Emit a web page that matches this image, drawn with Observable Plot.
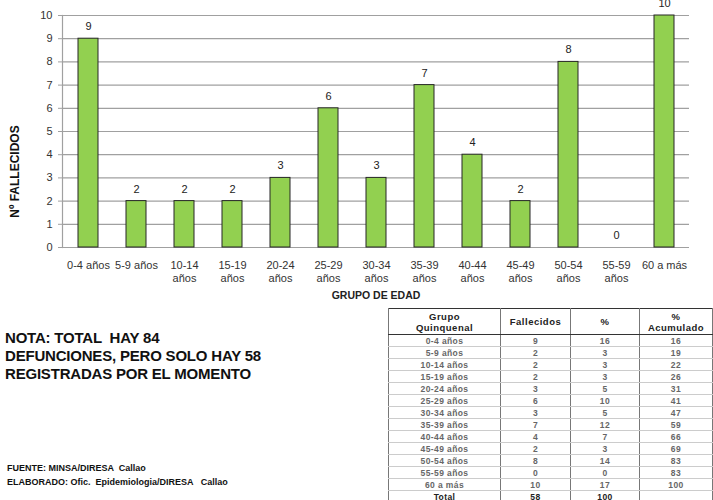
<!DOCTYPE html>
<html><head><meta charset="utf-8">
<script src="https://cdn.jsdelivr.net/npm/d3@7"></script>
<script src="https://cdn.jsdelivr.net/npm/@observablehq/plot@0.6"></script>
<style>
body{margin:0;background:#fff;font-family:"Liberation Sans",Arial,sans-serif;}
#wrap{position:relative;width:713px;height:500px;overflow:hidden;background:#fff;}
#chart{position:absolute;left:0;top:0;}
#nota{position:absolute;left:5px;top:329px;font-weight:bold;font-size:15px;line-height:18px;color:#111;white-space:pre;letter-spacing:-0.2px;}
#fuente{position:absolute;left:7px;top:461px;font-weight:bold;font-size:9px;line-height:14px;color:#111;white-space:pre;}
#tabla{position:absolute;left:388px;top:308px;border-collapse:collapse;font-size:8.5px;font-weight:bold;color:#666;border:1px solid #333;table-layout:fixed;width:324px;letter-spacing:0.4px;}
#tabla td,#tabla th{text-align:center;padding:0;height:11px;line-height:10px;border-left:1px solid #777;border-right:1px solid #777;border-bottom:1px solid #ccc;}
#tabla th{color:#222;font-size:9.5px;height:25px;line-height:11px;border-bottom:1px solid #333;letter-spacing:0.5px;}
#tabla tr.total td{color:#222;border-top:1px solid #333;}
</style>
</head><body>
<div id="wrap">
<div id="chart"></div>
<div id="nota"></div>
<div id="fuente"></div>
<table id="tabla"></table>
</div>
<script>
const categories = ["0-4 años","5-9 años","10-14 años","15-19 años","20-24 años","25-29 años","30-34 años","35-39 años","40-44 años","45-49 años","50-54 años","55-59 años","60 a más"];
const tickLabels = ["0-4 años","5-9 años","10-14\naños","15-19\naños","20-24\naños","25-29\naños","30-34\naños","35-39\naños","40-44\naños","45-49\naños","50-54\naños","55-59\naños","60 a más"];
const fallecidos = [9,2,2,2,3,6,3,7,4,2,8,0,10];
const porcentaje = [16,3,3,3,5,10,5,12,7,3,14,0,17];
const acumulado = [16,19,22,26,31,41,47,59,66,69,83,83,100];
const yTicks = [0,1,2,3,4,5,6,7,8,9,10];
const total = {grupo:"Total", fallecidos:58, porcentaje:100};
const tableHeader = ["Grupo\nQuinquenal","Fallecidos","%","%\nAcumulado"];
const notaLines = ["NOTA: TOTAL  HAY 84","DEFUNCIONES, PERO SOLO HAY 58","REGISTRADAS POR EL MOMENTO"];
const fuenteLines = ["FUENTE: MINSA/DIRESA  Callao","ELABORADO: Ofic.  Epidemiologia/DIRESA   Callao"];
const xTitle = "GRUPO DE EDAD";
const yTitle = "Nº FALLECIDOS";

const data = categories.map((c,i)=>({grupo:c, n:fallecidos[i]}));
const font = "Liberation Sans, Arial, sans-serif";

const chart = Plot.plot({
  width:713, height:305,
  marginLeft:62, marginRight:24, marginTop:15, marginBottom:58,
  style:{fontFamily:font, fontSize:"11px", color:"#333", background:"transparent"},
  x:{domain:categories, paddingInner:0.585, paddingOuter:0.2925, axis:null},
  y:{domain:[0,10], axis:null},
  marks:[
    Plot.gridY({ticks:yTicks, stroke:"#a0a0a0", strokeOpacity:1, strokeWidth:1.2}),
    Plot.frame({anchor:"left", stroke:"#a0a0a0", strokeWidth:1.2}),
    Plot.axisY({ticks:yTicks, tickSize:4, tickPadding:6, stroke:"#a0a0a0", fill:"#333", label:null, fontSize:11}),
    Plot.axisX({tickSize:0, tickPadding:13, tickFormat:d=>tickLabels[categories.indexOf(d)], label:null, lineHeight:1.15, fill:"#333", fontSize:11}),
    Plot.barY(data,{x:"grupo", y:"n", fill:"#92d050", stroke:"#262626", strokeWidth:1}),
    Plot.text(data,{x:"grupo", y:"n", text:d=>String(d.n), dy:-12, fontSize:11, fill:"#222"}),
    Plot.text([xTitle],{frameAnchor:"bottom", text:d=>d, dy:51, fontSize:10.5, fontWeight:"bold", fill:"#222"}),
    Plot.text([yTitle],{frameAnchor:"left", text:d=>d, textAnchor:"middle", rotate:-90, dx:-47, dy:40, fontWeight:"bold", fontSize:12, fill:"#111"})
  ]
});
document.getElementById("chart").append(chart);
document.getElementById("nota").textContent = notaLines.join("\n");
document.getElementById("fuente").textContent = fuenteLines.join("\n");

const tbl = d3.select("#tabla");
const cg = tbl.append("colgroup");
[112,70,69,73].forEach(w=>cg.append("col").style("width",w+"px"));
tbl.append("tr").selectAll("th").data(tableHeader).join("th")
  .html(d=>d.split("\n").join("<br>"));
categories.forEach((c,i)=>{
  tbl.append("tr").selectAll("td").data([c, fallecidos[i], porcentaje[i], acumulado[i]]).join("td").text(d=>d);
});
tbl.append("tr").attr("class","total").selectAll("td").data([total.grupo,total.fallecidos,total.porcentaje,""]).join("td").text(d=>d);
</script>
</body></html>
